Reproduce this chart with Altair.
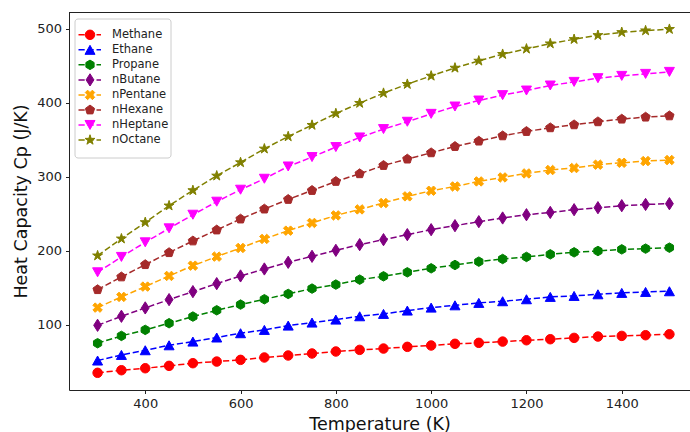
import math
import altair as alt
import pandas as pd

temps = [300, 350, 400, 450, 500, 550, 600, 650, 700, 750, 800, 850, 900,
         950, 1000, 1050, 1100, 1150, 1200, 1250, 1300, 1350, 1400, 1450, 1500]

methane = [34.8, 38.3, 41.0, 44.2, 47.8, 50.0, 52.3, 55.5, 58.2, 60.9, 63.6, 65.8, 67.6,
           69.9, 71.7, 74.0, 75.3, 77.0, 78.8, 80.2, 82.0, 83.8, 84.7, 85.6, 86.9]
ethane = [51.4, 59.0, 65.3, 72.0, 77.0, 82.5, 88.3, 92.8, 98.6, 102.7, 106.7, 111.2, 114.4,
          118.9, 122.9, 126.0, 129.3, 131.5, 134.2, 137.4, 138.7, 140.9, 142.8, 144.1, 145.0]
propane = [74.8, 84.7, 92.8, 101.8, 110.8, 119.3, 127.0, 134.2, 141.4, 148.6, 154.0, 160.7, 165.2,
           170.6, 176.0, 180.5, 185.0, 188.6, 191.4, 194.9, 197.6, 199.4, 201.6, 202.6, 203.9]
nbutane = [99.0, 111.2, 122.5, 133.7, 144.5, 155.3, 165.7, 175.1, 184.1, 192.2, 200.3, 208.0, 214.7,
           221.5, 228.2, 233.6, 239.0, 244.0, 248.4, 251.5, 255.2, 257.9, 260.6, 262.3, 263.3]
npentane = [122.9, 137.4, 151.3, 165.7, 179.6, 191.8, 203.5, 215.7, 226.9, 237.3, 247.5, 255.6, 264.2,
            273.2, 280.8, 286.6, 293.4, 298.8, 304.2, 308.8, 311.5, 316.0, 318.6, 320.9, 322.3]
nhexane = [147.2, 164.4, 181.0, 197.2, 213.0, 227.8, 242.6, 256.1, 269.1, 281.2, 293.4, 303.8, 315.0,
           323.6, 332.1, 340.6, 347.9, 355.0, 360.9, 365.9, 369.9, 374.0, 377.6, 380.3, 382.0]
nheptane = [170.6, 191.4, 211.1, 230.0, 248.4, 266.0, 282.2, 297.0, 313.6, 326.3, 339.8, 352.8, 364.1,
            374.0, 384.7, 394.6, 402.7, 410.0, 416.2, 423.0, 427.9, 432.9, 436.0, 438.7, 441.4]
noctane = [193.1, 216.0, 238.1, 260.6, 281.3, 301.0, 319.0, 337.5, 354.1, 369.5, 385.2, 399.2, 412.7,
           424.8, 436.0, 446.8, 456.3, 465.3, 472.5, 479.6, 485.5, 490.9, 494.9, 497.2, 499.1]

names = ["Methane", "Ethane", "Propane", "nButane", "nPentane", "nHexane", "nHeptane", "nOctane"]
series = [methane, ethane, propane, nbutane, npentane, nhexane, nheptane, noctane]
colors = ["#ff0000", "#0000ff", "#008000", "#800080", "#ffa500", "#a52a2a", "#ff00ff", "#808000"]

x_ticks = [400, 600, 800, 1000, 1200, 1400]
y_ticks = [100, 200, 300, 400, 500]


# ---- marker shapes (unit paths in [-1, 1]) ----
def poly(pts):
    return "M" + " L".join(f"{x:.4f},{y:.4f}" for x, y in pts) + " Z"


def regular(n, r=1.0, start=-90.0):
    return [(r * math.cos(math.radians(start + k * 360 / n)),
             r * math.sin(math.radians(start + k * 360 / n))) for k in range(n)]


hexagon = poly(regular(6))
pentagon = poly(regular(5))
star_pts = []
for k in range(10):
    rr = 1.0 if k % 2 == 0 else 0.381966
    a = math.radians(-90 + k * 36)
    star_pts.append((rr * math.cos(a), rr * math.sin(a)))
star = poly(star_pts)
plus = [(-1, -3), (1, -3), (1, -1), (3, -1), (3, 1), (1, 1), (1, 3), (-1, 3),
        (-1, 1), (-3, 1), (-3, -1), (-1, -1)]
rot = [((px - py) / math.sqrt(2), (px + py) / math.sqrt(2)) for px, py in plus]
m = max(max(abs(a), abs(b)) for a, b in rot)
xshape = poly([(a / m, b / m) for a, b in rot])
tri_up = "M0,-0.9 L1,0.9 L-1,0.9 Z"
tri_down = "M0,0.9 L1,-0.9 L-1,-0.9 Z"
thin_diamond = "M0,-1 L0.64,0 L0,1 L-0.64,0 Z"
shapes = ["circle", tri_up, hexagon, thin_diamond, xshape, pentagon, tri_down, star]
sizes = [90, 100, 90, 150, 90, 95, 100, 110]

rows = []
for nm, vals in zip(names, series):
    for t, v in zip(temps, vals):
        rows.append({"series": nm, "T": t, "cp": v})
df = pd.DataFrame(rows)

all_vals = [v for s in series for v in s]
ymin, ymax = min(all_vals), max(all_vals)
ypad = (ymax - ymin) * 0.05
xpad = (max(temps) - min(temps)) * 0.05

W, H = 621, 378
W_FULL = 629  # the axes run past the picture's right edge; only W px are visible
xlo = min(temps) - xpad
xhi_full = max(temps) + xpad
xhi = xlo + (xhi_full - xlo) * W / W_FULL

DASH = [6.2, 2.8]

xs = alt.Scale(domain=[xlo, xhi], nice=False, zero=False)
ys = alt.Scale(domain=[ymin - ypad, ymax + ypad], nice=False, zero=False)
cs = alt.Scale(domain=names, range=colors)

xenc = alt.X("T:Q", scale=xs, title="Temperature (K)",
             axis=alt.Axis(values=x_ticks, grid=False, format="d"))
yenc = alt.Y("cp:Q", scale=ys, title="Heat Capacity Cp (J/K)",
             axis=alt.Axis(values=y_ticks, grid=False, format="d"))

layers = []
for nm, col, shp, sz in zip(names, colors, shapes, sizes):
    sub = df[df.series == nm]
    ln = alt.Chart(sub).mark_line(color=col, strokeWidth=1.5, strokeDash=DASH).encode(
        x=xenc, y=yenc)
    pt = alt.Chart(sub).mark_point(filled=True, color=col, fill=col, stroke=col, strokeWidth=1,
                                   opacity=1, shape=shp, size=sz).encode(x=xenc, y=yenc)
    layers += [ln, pt]

main = alt.layer(*layers)

# top spine of the axes (right spine lies outside the picture)
top_spine = alt.Chart(pd.DataFrame({"a": [0]})).mark_rule(color="#222222", strokeWidth=1).encode(
    x=alt.value(0), x2=alt.value(W), y=alt.value(0.5))

# ---- legend (matplotlib style, top-left inside axes) ----
leg_df = pd.DataFrame({"series": names})
ly = alt.Y("series:N", scale=alt.Scale(type="point", domain=names, range=[15.3, 135.5]), axis=None)
box = alt.Chart(pd.DataFrame({"a": [0]})).mark_rect(
    fill="white", fillOpacity=0.8, stroke="#cccccc", strokeWidth=1, cornerRadius=3
).encode(x=alt.value(6), x2=alt.value(102), y=alt.value(7), y2=alt.value(146))
leg_line = alt.Chart(leg_df).mark_rule(strokeWidth=1.5, strokeDash=DASH).encode(
    x=alt.value(9.5), x2=alt.value(32), y=ly,
    color=alt.Color("series:N", scale=cs, legend=None))
leg_pts = []
for nm, col, shp, sz in zip(names, colors, shapes, sizes):
    leg_pts.append(alt.Chart(pd.DataFrame({"series": [nm]})).mark_point(
        filled=True, color=col, fill=col, stroke=col, strokeWidth=1, opacity=1,
        shape=shp, size=sz).encode(x=alt.value(21), y=ly))
leg_txt = alt.Chart(leg_df).mark_text(
    align="left", baseline="middle", fontSize=11.5, font="DejaVu Sans", color="#222222"
).encode(x=alt.value(43), y=ly, text="series:N")

legend = alt.layer(box, leg_line, *leg_pts, leg_txt)

chart = alt.layer(main, top_spine, legend).resolve_scale(y="independent", color="independent").properties(
    width=W, height=H,
    autosize=alt.AutoSizeParams(type="none"),
    padding={"left": 69, "top": 12, "right": 0, "bottom": 42},
).configure_view(strokeWidth=0).configure_axis(
    domainColor="#222222", tickColor="#222222", tickSize=3.5, labelPadding=4,
    labelFontSize=13, labelFont="DejaVu Sans", labelColor="#222222",
    titleFontSize=17.5, titleFont="DejaVu Sans", titleFontWeight="normal", titleColor="#111111",
).configure_axisX(titlePadding=4.5).configure_axisY(titlePadding=6)

chart.save("out.html", embed_options={"renderer": "svg", "actions": False})
